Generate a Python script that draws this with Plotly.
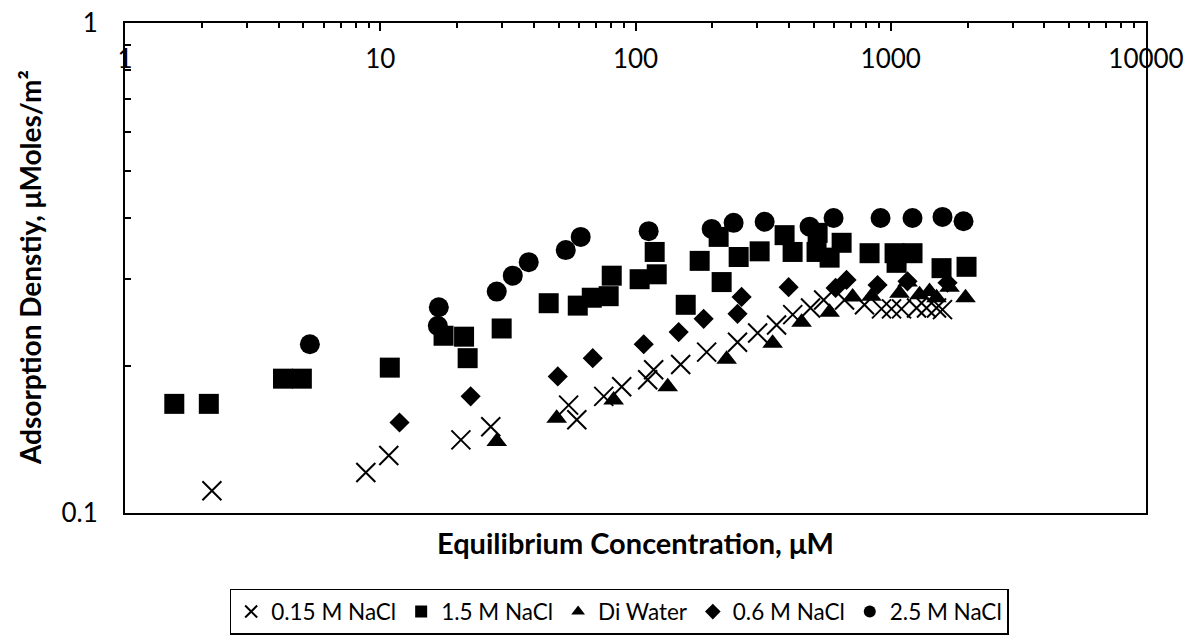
import plotly.graph_objects as go

# ---------------- data ----------------
x_015 = [2.19, 8.78, 10.8, 20.7, 27.1, 54.7, 58.9, 75.1, 88.3, 111.6, 117.8, 150.3, 190, 251, 301,
         357, 413, 485, 546, 659, 789, 920, 1007, 1102, 1262, 1381, 1511, 1595]
y_015 = [0.111, 0.121, 0.131, 0.141, 0.150, 0.166, 0.155, 0.173, 0.181, 0.187, 0.196, 0.201, 0.213, 0.223, 0.233,
         0.242, 0.254, 0.262, 0.272, 0.272, 0.266, 0.261, 0.261, 0.261, 0.262, 0.262, 0.262, 0.260]

x_15 = [1.56, 2.13, 4.16, 4.93, 10.9, 17.7, 21.3, 22.0, 29.9, 45.7, 59.4, 67.4, 78.5, 80.7, 103.8, 121.1,
        118.9, 157.3, 178.4, 217.5, 211.7, 253.6, 306.4, 383.8, 412.6, 512, 517, 576, 642, 826, 1035, 1054,
        1217, 1581, 1981]
y_15 = [0.167, 0.167, 0.188, 0.188, 0.198, 0.230, 0.229, 0.207, 0.238, 0.268, 0.265, 0.275, 0.277, 0.305,
        0.300, 0.307, 0.341, 0.266, 0.327, 0.296, 0.366, 0.333, 0.342, 0.369, 0.341, 0.341, 0.373, 0.332,
        0.356, 0.339, 0.339, 0.324, 0.339, 0.316, 0.318]

x_di = [28.6, 49.1, 82.1, 133.7, 227.5, 344.5, 447.4, 576, 709, 841, 1082, 1163, 1297, 1419, 1511, 1699, 1963]
y_di = [0.140, 0.156, 0.170, 0.181, 0.206, 0.222, 0.245, 0.257, 0.276, 0.277, 0.281, 0.296, 0.279, 0.283,
        0.275, 0.289, 0.275]

x_06 = [11.9, 22.6, 49.6, 68.0, 107.7, 147.6, 184.9, 251, 260.4, 398, 608, 671, 888, 1163, 1669]
y_06 = [0.153, 0.173, 0.190, 0.207, 0.221, 0.234, 0.249, 0.255, 0.276, 0.289, 0.288, 0.299, 0.292, 0.297,
        0.295]

x_25 = [5.30, 16.96, 16.81, 28.6, 33.05, 38.17, 53.3, 61.0, 112.6, 198.8, 242.3, 320.6, 480.9, 597, 912,
        1217, 1595, 1928]
y_25 = [0.221, 0.263, 0.241, 0.283, 0.305, 0.325, 0.344, 0.366, 0.376, 0.380, 0.391, 0.393, 0.384, 0.400,
        0.400, 0.400, 0.402, 0.394]

series_names = ["0.15 M NaCl", "1.5 M NaCl", "Di Water", "0.6 M NaCl", "2.5 M NaCl"]

x_tickvals = [1, 10, 100, 1000, 10000]
x_ticktext = ["1", "10", "100", "1000", "10000"]
y_tickvals = [0.1, 1]
y_ticktext = ["0.1", "1"]

x_minor = [m * 10 ** d for d in range(0, 4) for m in range(2, 10)]
y_minor = [m / 10 for m in range(2, 10)]

FONT = "Lato"
BLACK = "#000000"

fig = go.Figure()

fig.add_trace(go.Scatter(x=x_015, y=y_015, mode="markers", name=series_names[0],
                         marker=dict(symbol="x-thin", size=19, color=BLACK,
                                     line=dict(color=BLACK, width=2))))
fig.add_trace(go.Scatter(x=x_15, y=y_15, mode="markers", name=series_names[1],
                         marker=dict(symbol="square", size=20, color=BLACK, line=dict(width=0))))
fig.add_trace(go.Scatter(x=x_di, y=y_di, mode="markers", name=series_names[2],
                         marker=dict(symbol="triangle-up", size=18, color=BLACK, line=dict(width=0))))
fig.add_trace(go.Scatter(x=x_06, y=y_06, mode="markers", name=series_names[3],
                         marker=dict(symbol="diamond", size=15.5, color=BLACK, line=dict(width=0))))
fig.add_trace(go.Scatter(x=x_25, y=y_25, mode="markers", name=series_names[4],
                         marker=dict(symbol="circle", size=20, color=BLACK, line=dict(width=0))))
# empty trace so that the label-only overlay axis is drawn
fig.add_trace(go.Scatter(x=[], y=[], xaxis="x2", yaxis="y", showlegend=False,
                         hoverinfo="skip", mode="markers"))

fig.update_layout(
    width=1191, height=636, autosize=False,
    margin=dict(l=125, r=45, t=23, b=123, pad=0, autoexpand=False),
    paper_bgcolor="white", plot_bgcolor="white",
    font=dict(family=FONT, size=23, color=BLACK),
    showlegend=True,
    legend=dict(orientation="h", x=0.484, xanchor="center", y=-0.155, yanchor="top",
                bordercolor=BLACK, borderwidth=1.5, bgcolor="white",
                font=dict(family=FONT, size=22.5, color=BLACK),
                itemsizing="constant", itemwidth=30, tracegroupgap=0),
    xaxis=dict(type="log", range=[0, 4], side="top",
               tickmode="array", tickvals=x_tickvals, showticklabels=False,
               ticks="inside", ticklen=8, tickwidth=1.5, tickcolor=BLACK,
               showline=True, linecolor=BLACK, linewidth=2, mirror=True,
               showgrid=False, zeroline=False,
               minor=dict(tickvals=x_minor, ticks="inside", ticklen=5, tickwidth=1.5,
                          tickcolor=BLACK, showgrid=False)),
    xaxis2=dict(type="log", range=[0, 4], overlaying="x", anchor="free", position=0.963,
                side="bottom", tickmode="array", tickvals=x_tickvals, ticktext=x_ticktext,
                ticks="", showline=False, showgrid=False, zeroline=False,
                tickfont=dict(family=FONT, size=26, color=BLACK)),
    yaxis=dict(type="log", range=[-1, 0],
               tickmode="array", tickvals=y_tickvals, ticktext=y_ticktext,
               ticks="inside", ticklen=6, tickwidth=1.5, tickcolor=BLACK,
               ticklabelstandoff=20,
               showline=True, linecolor=BLACK, linewidth=2, mirror=True,
               showgrid=False, zeroline=False,
               minor=dict(tickvals=y_minor, ticks="inside", ticklen=6, tickwidth=1.5,
                          tickcolor=BLACK, showgrid=False),
               tickfont=dict(family=FONT, size=26, color=BLACK)),
    annotations=[
        dict(text="<b>Equilibrium Concentration, μM</b>", xref="paper", yref="paper",
             x=0.5, y=-0.06, xanchor="center", yanchor="middle", showarrow=False,
             font=dict(family=FONT, size=29, color=BLACK)),
        dict(text="<b>Adsorption Denstiy, μMoles/m²</b>", xref="paper", yref="paper",
             x=-0.093, y=0.5, xanchor="center", yanchor="middle", showarrow=False,
             textangle=-90, font=dict(family=FONT, size=28, color=BLACK)),
    ],
)

fig.write_html("out.html")
